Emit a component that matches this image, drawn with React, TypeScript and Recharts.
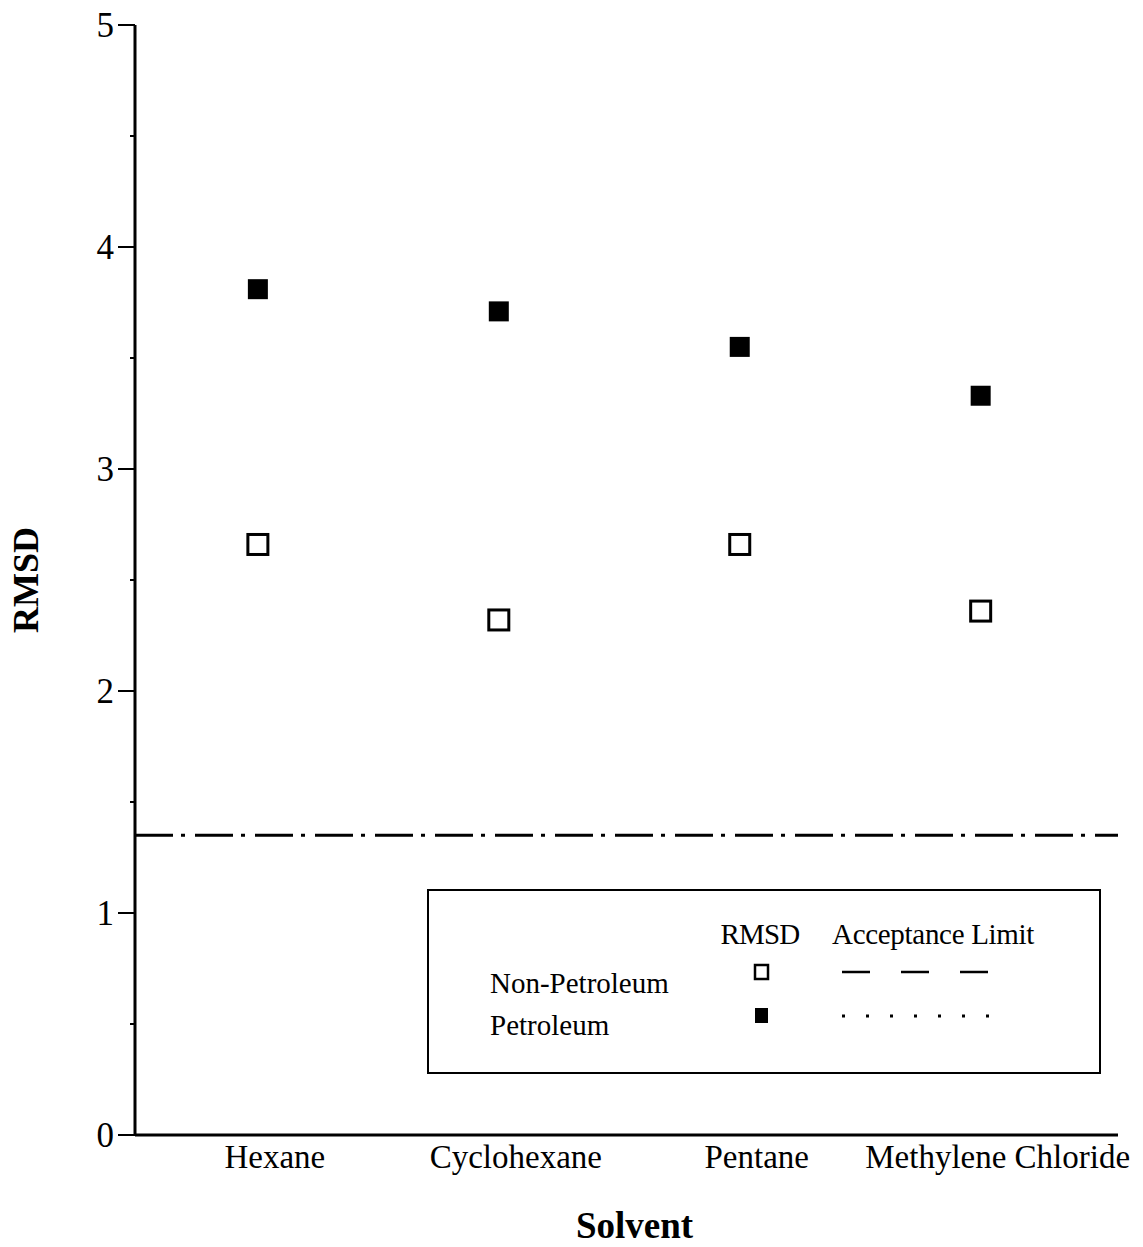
import { Label, ReferenceLine, Scatter, ScatterChart, XAxis, YAxis } from 'recharts';

const solvents = ['Hexane', 'Cyclohexane', 'Pentane', 'Methylene Chloride'];
const nonPetroleumRmsd = [2.66, 2.32, 2.66, 2.36];
const petroleumRmsd = [3.81, 3.71, 3.55, 3.33];
const nonPetroleumLimit = 1.35;
const petroleumLimit = 1.35;
const yTicks = [0, 0.5, 1, 1.5, 2, 2.5, 3, 3.5, 4, 4.5, 5];

const font = '"Liberation Serif", "Times New Roman", serif';

const nonPetData = solvents.map((s, i) => ({ x: i + 1, y: nonPetroleumRmsd[i], name: s }));
const petData = solvents.map((s, i) => ({ x: i + 1, y: petroleumRmsd[i], name: s }));

const YTick = (props: any) => {
    const { x, y, payload } = props;
    const major = Number.isInteger(payload.value);
    return (
        <g>
            <line x1={x} x2={x - (major ? 17 : 5)} y1={y} y2={y} stroke="#000" strokeWidth={2} />
            {major && (
                <text x={x - 21} y={y} dy="0.35em" textAnchor="end" fontFamily={font} fontSize={35} fill="#000">
                    {payload.value}
                </text>
            )}
        </g>
    );
};

const XTick = (props: any) => {
    const { x, y, payload } = props;
    return (
        <text x={x + 17} y={y} dy="0.8em" textAnchor="middle" fontFamily={font} fontSize={33} fill="#000">
            {solvents[payload.value - 1]}
        </text>
    );
};

const OpenSquare = (props: any) => (
    <rect x={props.cx - 10} y={props.cy - 10} width={20} height={20} fill="#fff" stroke="#000" strokeWidth={3} />
);

const FilledSquare = (props: any) => (
    <rect x={props.cx - 10} y={props.cy - 10} width={20} height={20} fill="#000" />
);

const SolventLabel = (props: any) => {
    const { x, y, width, height } = props.viewBox;
    return (
        <text x={x + width / 2 + 8} y={y + height - 9} textAnchor="middle" fontFamily={font} fontSize={37} fontWeight="bold" fill="#000">
            Solvent
        </text>
    );
};

const LegendBox = () => (
    <svg width={674} height={185} style={{ position: 'absolute', left: 427, top: 889 }}>
        <rect x={1} y={1} width={672} height={183} fill="#fff" stroke="#000" strokeWidth={2} />
        <g fontFamily={font} fontSize={29} fill="#000">
            <text x={333} y={55} textAnchor="middle" letterSpacing={-0.8}>RMSD</text>
            <text x={405} y={55} letterSpacing={-0.3}>Acceptance Limit</text>
            <text x={63} y={104}>Non-Petroleum</text>
            <text x={63} y={146}>Petroleum</text>
        </g>
        <rect x={328} y={76} width={13} height={14} fill="#fff" stroke="#000" strokeWidth={2.5} />
        <rect x={328} y={119} width={13} height={15} fill="#000" />
        <line x1={415} x2={562} y1={83} y2={83} stroke="#000" strokeWidth={2.5} strokeDasharray="28 31" />
        <line x1={415} x2={565} y1={127} y2={127} stroke="#000" strokeWidth={3} strokeDasharray="3 21" />
    </svg>
);

export default function App() {
    return (
        <div style={{ position: 'absolute', left: 0, top: 0, width: 1143, height: 1247, background: '#fff' }}>
            <ScatterChart width={1143} height={1247} margin={{ top: 25, right: 25, left: 0, bottom: 0 }}>
                <XAxis
                    type="number"
                    dataKey="x"
                    domain={[0.49, 4.57]}
                    ticks={[1, 2, 3, 4]}
                    allowDataOverflow
                    height={112}
                    tickSize={0}
                    tickMargin={7}
                    tickLine={false}
                    tick={<XTick />}
                    axisLine={{ stroke: '#000', strokeWidth: 3 }}
                >
                    <Label content={<SolventLabel />} />
                </XAxis>
                <YAxis
                    type="number"
                    dataKey="y"
                    domain={[0, 5]}
                    ticks={yTicks}
                    interval={0}
                    width={135}
                    tickSize={0}
                    tickMargin={0}
                    tickLine={false}
                    tick={<YTick />}
                    axisLine={{ stroke: '#000', strokeWidth: 3 }}
                    label={{ value: 'RMSD', angle: -90, position: 'insideLeft', offset: 25, fontFamily: font, fontSize: 36, fontWeight: 'bold', fill: '#000', style: { textAnchor: 'middle' } }}
                />
                <ReferenceLine y={nonPetroleumLimit} stroke="#000" strokeWidth={3} strokeDasharray="38 22" />
                <ReferenceLine y={petroleumLimit} stroke="#000" strokeWidth={3} strokeDasharray="4 56" strokeDashoffset={-46} />
                <Scatter data={nonPetData} shape={<OpenSquare />} isAnimationActive={false} />
                <Scatter data={petData} shape={<FilledSquare />} isAnimationActive={false} />
            </ScatterChart>
            <LegendBox />
        </div>
    );
}
